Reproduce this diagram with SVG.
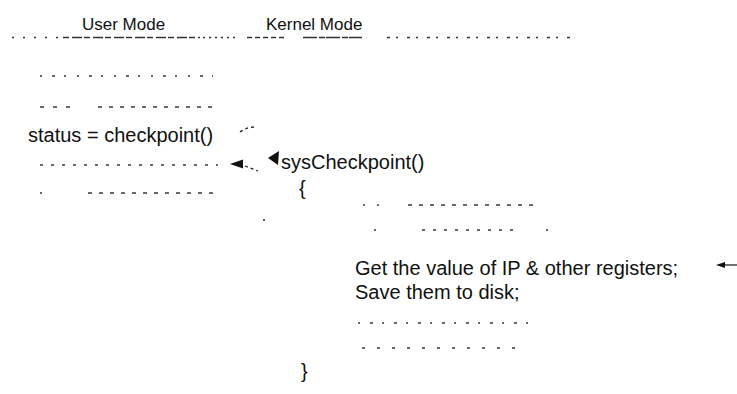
<svg xmlns="http://www.w3.org/2000/svg" width="737" height="394" viewBox="0 0 737 394">
  <style>
    .txt { font-family: "Liberation Sans", Arial, Helvetica, sans-serif; fill: #111; }
    .hd { font-size: 17px; }
    .code { font-size: 20px; }
    .dots { stroke: #3a3a3a; stroke-width: 1.4; fill: none; }
    .rule { stroke: #333; stroke-width: 1.3; fill: none; }
    .conn { stroke: #222; stroke-width: 1.3; fill: none; }
    .head { fill: #111; stroke: none; }
  </style>
  <rect width="737" height="394" fill="#ffffff"/>

  <!-- column headings and the dividing rule -->
  <g id="headings">
    <text class="txt hd" x="82" y="30">User Mode</text>
    <text class="txt hd" x="266" y="30">Kernel Mode</text>
    <line class="rule" x1="12" y1="37.5" x2="60" y2="37.5" stroke-dasharray="2 9"/>
    <line class="rule" x1="63" y1="37.5" x2="200" y2="37.5" stroke-dasharray="6 3 10 2"/>
    <line class="rule" x1="203" y1="37.5" x2="235" y2="37.5" stroke-dasharray="2 4"/>
    <line class="rule" x1="247" y1="37.5" x2="285" y2="37.5" stroke-dasharray="5 3"/>
    <line class="rule" x1="303" y1="37.5" x2="362" y2="37.5" stroke-dasharray="14 2 6 1"/>
    <line class="rule" x1="387" y1="37.5" x2="570" y2="37.5" stroke-dasharray="3 6 2 9"/>
  </g>

  <!-- user-mode code: caller -->
  <g id="user-mode">
    <line class="dots" x1="40" y1="76" x2="213" y2="76" stroke-dasharray="2 10 3 9 2 11"/>
    <line class="dots" x1="40" y1="107" x2="70" y2="107" stroke-dasharray="4 9"/>
    <line class="dots" x1="98" y1="107" x2="218" y2="107" stroke-dasharray="4 7"/>
    <text class="txt code" x="28" y="142">status = checkpoint()</text>
    <line class="dots" x1="40" y1="165" x2="218" y2="165" stroke-dasharray="3 8"/>
    <line class="dots" x1="40" y1="193" x2="42" y2="193"/>
    <line class="dots" x1="88" y1="193" x2="218" y2="193" stroke-dasharray="4 7"/>
  </g>

  <!-- kernel-mode code: system call handler -->
  <g id="kernel-mode">
    <text class="txt code" x="281" y="169">sysCheckpoint()</text>
    <text class="txt code" x="299" y="195">{</text>
    <circle cx="264" cy="220" r="1" fill="#222"/>
    <line class="dots" x1="363" y1="205" x2="365" y2="205"/>
    <line class="dots" x1="377" y1="205" x2="379" y2="205"/>
    <line class="dots" x1="408" y1="205" x2="540" y2="205" stroke-dasharray="4 7"/>
    <line class="dots" x1="374" y1="230" x2="376" y2="230"/>
    <line class="dots" x1="422" y1="230" x2="515" y2="230" stroke-dasharray="3 8"/>
    <line class="dots" x1="546" y1="230" x2="548" y2="230"/>
    <text class="txt code" x="355" y="275">Get the value of IP &amp; other registers;</text>
    <text class="txt code" x="355" y="299">Save them to disk;</text>
    <line class="dots" x1="358" y1="323" x2="533" y2="323" stroke-dasharray="2 10 3 9"/>
    <line class="dots" x1="362" y1="348" x2="522" y2="348" stroke-dasharray="3 12"/>
    <text class="txt code" x="301" y="378">}</text>
  </g>

  <!-- call / return connectors -->
  <g id="connectors">
    <path class="conn" d="M240,132 Q247,127 255,127" stroke-dasharray="3 3"/>
    <polygon class="head" points="268,158 279,151 278,165"/>
    <polygon class="head" points="230,164 243,159.5 243,168.5"/>
    <path class="conn" d="M245,166 L258,171" stroke-dasharray="3 3"/>
    <polygon class="head" points="716,265 725,262 725,268"/>
    <line class="conn" x1="725" y1="265" x2="737" y2="265" stroke-width="1.6"/>
  </g>
</svg>
